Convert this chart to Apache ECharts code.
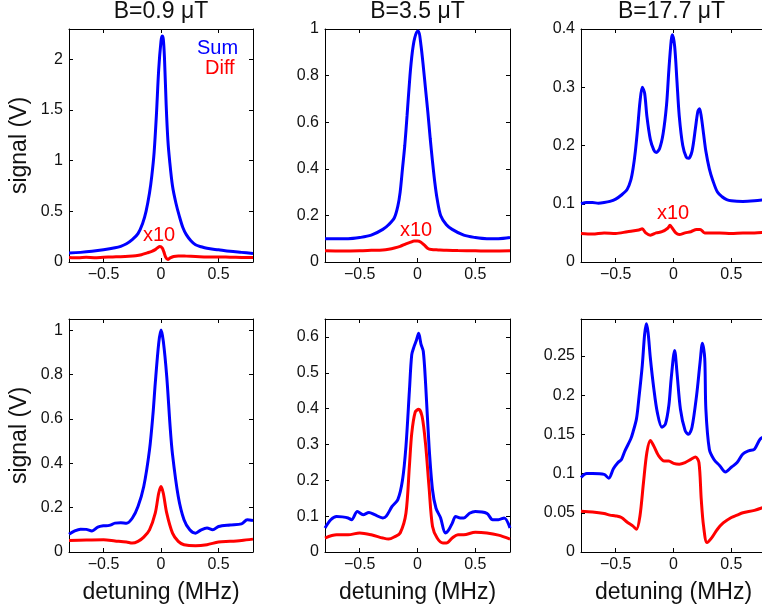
<!DOCTYPE html>
<html>
<head>
<meta charset="utf-8">
<script src="https://cdn.jsdelivr.net/npm/echarts@6/dist/echarts.min.js"></script>
<style>html,body{margin:0;padding:0;background:#fff}#c{width:762px;height:610px}</style>
</head>
<body>
<div id="c"></div>
<script>
// ---------- data ----------
const titles = ['B=0.9 μT', 'B=3.5 μT', 'B=17.7 μT'];
const xTicks = [-0.5, 0, 0.5];
const yTicks1 = [0, 0.5, 1, 1.5, 2];
const yTicks2 = [0, 0.2, 0.4, 0.6, 0.8, 1];
const yTicks3 = [0, 0.1, 0.2, 0.3, 0.4];
const yTicks4 = [0, 0.2, 0.4, 0.6, 0.8, 1];
const yTicks5 = [0, 0.1, 0.2, 0.3, 0.4, 0.5, 0.6];
const yTicks6 = [0, 0.05, 0.1, 0.15, 0.2, 0.25];
const yMax = [2.3, 1, 0.4, 1.05, 0.65, 0.297];

// Panel 1 (B=0.9 uT, top)
const sum1X = [-0.80,-0.70,-0.60,-0.50,-0.40,-0.35,-0.30,-0.25,-0.20,-0.16,-0.13,-0.10,-0.08,-0.06,-0.04,-0.02,0.00,0.01,0.02,0.03,0.045,0.06,0.075,0.10,0.13,0.16,0.19,0.22,0.26,0.30,0.35,0.40,0.50,0.60,0.70,0.80];
const sum1Y = [0.09,0.095,0.105,0.12,0.14,0.155,0.18,0.22,0.28,0.38,0.50,0.68,0.85,1.08,1.45,1.90,2.18,2.23,2.20,2.02,1.55,1.20,1.00,0.75,0.58,0.45,0.34,0.27,0.21,0.17,0.15,0.135,0.12,0.105,0.095,0.085];
const diff1X = [-0.80,-0.72,-0.65,-0.58,-0.50,-0.42,-0.35,-0.28,-0.22,-0.17,-0.12,-0.08,-0.05,-0.03,-0.01,0.01,0.025,0.04,0.06,0.08,0.11,0.15,0.22,0.30,0.40,0.50,0.60,0.70,0.80];
const diff1Y = [0.045,0.042,0.046,0.043,0.047,0.05,0.052,0.056,0.062,0.072,0.09,0.105,0.122,0.14,0.152,0.14,0.10,0.05,0.025,0.04,0.055,0.06,0.058,0.055,0.05,0.05,0.047,0.045,0.044];

// Panel 2 (B=3.5 uT, top)
const sum2X = [-0.80,-0.70,-0.60,-0.50,-0.40,-0.30,-0.25,-0.20,-0.17,-0.15,-0.13,-0.11,-0.09,-0.065,-0.045,-0.025,0.00,0.01,0.03,0.05,0.07,0.09,0.11,0.13,0.15,0.17,0.20,0.25,0.30,0.40,0.50,0.60,0.70,0.80];
const sum2Y = [0.10,0.10,0.10,0.105,0.115,0.14,0.16,0.19,0.24,0.30,0.40,0.50,0.63,0.80,0.90,0.96,0.99,0.99,0.93,0.84,0.74,0.64,0.53,0.43,0.34,0.27,0.20,0.16,0.14,0.115,0.105,0.10,0.10,0.105];
const diff2X = [-0.80,-0.65,-0.50,-0.40,-0.30,-0.25,-0.20,-0.15,-0.10,-0.06,-0.03,0.00,0.03,0.06,0.09,0.12,0.18,0.25,0.35,0.50,0.65,0.80];
const diff2Y = [0.048,0.047,0.048,0.05,0.052,0.055,0.06,0.067,0.078,0.085,0.09,0.09,0.085,0.072,0.058,0.054,0.052,0.05,0.049,0.048,0.047,0.048];

// Panel 3 (B=17.7 uT, top)
const sum3X = [-0.80,-0.75,-0.70,-0.65,-0.60,-0.55,-0.50,-0.45,-0.40,-0.37,-0.35,-0.33,-0.31,-0.29,-0.27,-0.25,-0.23,-0.20,-0.17,-0.15,-0.12,-0.09,-0.06,-0.04,-0.02,-0.01,0.01,0.03,0.05,0.08,0.11,0.13,0.16,0.19,0.21,0.225,0.24,0.26,0.28,0.31,0.34,0.38,0.42,0.46,0.50,0.60,0.70,0.80];
const sum3Y = [0.10,0.102,0.102,0.101,0.102,0.104,0.108,0.115,0.125,0.14,0.16,0.19,0.23,0.275,0.30,0.29,0.25,0.21,0.192,0.188,0.195,0.22,0.27,0.33,0.38,0.39,0.37,0.31,0.25,0.20,0.18,0.178,0.19,0.23,0.258,0.263,0.25,0.22,0.19,0.16,0.14,0.12,0.112,0.107,0.105,0.104,0.105,0.107];
const diff3X = [-0.80,-0.70,-0.60,-0.50,-0.40,-0.30,-0.27,-0.24,-0.20,-0.15,-0.10,-0.05,-0.03,-0.01,0.02,0.05,0.10,0.15,0.20,0.23,0.27,0.40,0.50,0.60,0.70,0.80];
const diff3Y = [0.049,0.048,0.05,0.049,0.052,0.055,0.057,0.05,0.046,0.05,0.052,0.058,0.063,0.058,0.05,0.047,0.05,0.052,0.056,0.056,0.05,0.05,0.049,0.05,0.05,0.051];

// Panel 4 (B=0.9 uT, bottom)
const sum4X = [-0.80,-0.75,-0.70,-0.65,-0.60,-0.55,-0.50,-0.45,-0.40,-0.35,-0.30,-0.25,-0.20,-0.15,-0.10,-0.07,-0.05,-0.02,0.00,0.02,0.05,0.08,0.10,0.15,0.20,0.25,0.30,0.35,0.40,0.45,0.50,0.60,0.70,0.75,0.80];
const sum4Y = [0.08,0.095,0.103,0.102,0.095,0.112,0.118,0.12,0.13,0.132,0.13,0.152,0.205,0.295,0.46,0.62,0.76,0.94,1.00,0.95,0.79,0.56,0.44,0.25,0.145,0.10,0.085,0.10,0.108,0.10,0.115,0.122,0.127,0.145,0.142];
const diff4X = [-0.80,-0.65,-0.50,-0.40,-0.30,-0.25,-0.20,-0.15,-0.10,-0.05,-0.02,0.00,0.02,0.05,0.10,0.15,0.20,0.30,0.40,0.50,0.60,0.70,0.80];
const diff4Y = [0.052,0.054,0.055,0.05,0.045,0.04,0.048,0.067,0.10,0.175,0.265,0.295,0.265,0.175,0.085,0.048,0.033,0.028,0.033,0.045,0.048,0.052,0.058];

// Panel 5 (B=3.5 uT, bottom)
const sum5X = [-0.80,-0.75,-0.70,-0.65,-0.60,-0.57,-0.52,-0.47,-0.42,-0.37,-0.30,-0.27,-0.22,-0.17,-0.13,-0.10,-0.07,-0.05,-0.03,-0.01,0.01,0.03,0.05,0.07,0.10,0.13,0.16,0.20,0.24,0.27,0.30,0.33,0.37,0.40,0.45,0.50,0.60,0.65,0.70,0.75,0.80];
const sum5Y = [0.067,0.09,0.099,0.098,0.095,0.09,0.113,0.104,0.11,0.104,0.095,0.10,0.127,0.146,0.20,0.294,0.45,0.55,0.573,0.59,0.61,0.58,0.56,0.47,0.294,0.173,0.122,0.095,0.053,0.062,0.08,0.099,0.095,0.095,0.108,0.113,0.108,0.09,0.09,0.095,0.067];
const diff5X = [-0.80,-0.70,-0.60,-0.50,-0.40,-0.30,-0.25,-0.20,-0.15,-0.10,-0.07,-0.05,-0.02,0.01,0.04,0.07,0.10,0.13,0.17,0.22,0.25,0.30,0.35,0.40,0.50,0.60,0.70,0.80];
const diff5Y = [0.039,0.048,0.048,0.053,0.048,0.039,0.036,0.042,0.053,0.108,0.24,0.33,0.39,0.398,0.378,0.30,0.18,0.071,0.039,0.025,0.025,0.039,0.048,0.048,0.055,0.053,0.047,0.036];

// Panel 6 (B=17.7 uT, bottom)
const sum6X = [-0.80,-0.75,-0.70,-0.60,-0.56,-0.52,-0.48,-0.45,-0.42,-0.37,-0.35,-0.32,-0.30,-0.27,-0.25,-0.235,-0.22,-0.20,-0.17,-0.14,-0.10,-0.07,-0.04,-0.02,0.01,0.03,0.06,0.10,0.13,0.16,0.20,0.23,0.25,0.27,0.28,0.31,0.35,0.40,0.45,0.50,0.55,0.60,0.65,0.70,0.75,0.80];
const sum6Y = [0.095,0.10,0.10,0.099,0.094,0.106,0.114,0.118,0.129,0.144,0.153,0.17,0.195,0.238,0.277,0.291,0.28,0.247,0.208,0.178,0.159,0.163,0.187,0.221,0.257,0.229,0.182,0.155,0.15,0.159,0.20,0.242,0.266,0.247,0.182,0.131,0.118,0.11,0.102,0.108,0.114,0.125,0.129,0.131,0.144,0.148];
const diff6X = [-0.80,-0.70,-0.60,-0.55,-0.50,-0.45,-0.40,-0.35,-0.32,-0.29,-0.26,-0.23,-0.20,-0.17,-0.13,-0.08,-0.04,0.00,0.05,0.10,0.15,0.19,0.22,0.24,0.26,0.29,0.33,0.38,0.43,0.50,0.55,0.60,0.70,0.80];
const diff6Y = [0.052,0.051,0.049,0.047,0.046,0.044,0.038,0.033,0.029,0.046,0.088,0.127,0.142,0.135,0.123,0.116,0.116,0.113,0.112,0.114,0.118,0.121,0.114,0.067,0.033,0.012,0.018,0.029,0.037,0.044,0.047,0.05,0.053,0.058];

// ---------- layout / style ----------
const FONT = '"Liberation Sans", Arial, Helvetica, sans-serif';
const colLeft = [69, 325, 581];
const colWidth = [184, 185, 185];
const rowTop = [29, 319];
const rowHeight = 233;
const yTickSets = [yTicks1, yTicks2, yTicks3, yTicks4, yTicks5, yTicks6];
const sums = [[sum1X,sum1Y],[sum2X,sum2Y],[sum3X,sum3Y],[sum4X,sum4Y],[sum5X,sum5Y],[sum6X,sum6Y]];
const diffs = [[diff1X,diff1Y],[diff2X,diff2Y],[diff3X,diff3Y],[diff4X,diff4Y],[diff5X,diff5Y],[diff6X,diff6Y]];

function zip(xs, ys) { return xs.map((x, i) => [x, ys[i]]); }
function fmt(v) { return String(v).replace('-', '\u2212'); }

const grid = [], xAxis = [], yAxis = [], series = [];
for (let i = 0; i < 6; i++) {
  const r = Math.floor(i / 3), c = i % 3;
  grid.push({ left: colLeft[c], top: rowTop[r], width: colWidth[c], height: rowHeight,
              containLabel: false, outerBoundsMode: 'none', show: false });
  const axLine = { show: true, onZero: false, lineStyle: { color: '#000', width: 1 } };
  const tickX = { show: true, inside: true, length: 4, customValues: xTicks, lineStyle: { color: '#000', width: 1 } };
  const tickY = { show: true, inside: true, length: 4, customValues: yTickSets[i], lineStyle: { color: '#000', width: 1 } };
  xAxis.push({
    type: 'value', gridIndex: i, min: -0.8, max: 0.8, position: 'bottom',
    axisLine: axLine, axisTick: tickX, splitLine: { show: false },
    axisLabel: { customValues: xTicks, formatter: fmt, fontSize: 16, color: '#111', margin: 5, fontFamily: FONT },
    name: r === 1 ? 'detuning (MHz)' : '', nameLocation: 'middle', nameGap: 29,
    nameTextStyle: { fontSize: 23, color: '#111', fontFamily: FONT }
  });
  xAxis.push({
    type: 'value', gridIndex: i, min: -0.8, max: 0.8, position: 'top',
    axisLine: axLine, axisTick: tickX, splitLine: { show: false }, axisLabel: { show: false }
  });
  yAxis.push({
    type: 'value', gridIndex: i, min: 0, max: yMax[i], position: 'left',
    axisLine: axLine, axisTick: tickY, splitLine: { show: false },
    axisLabel: { customValues: yTickSets[i], formatter: fmt, fontSize: 16, color: '#111', margin: 6, fontFamily: FONT },
    name: c === 0 ? 'signal (V)' : '', nameLocation: 'middle', nameGap: 38,
    nameTextStyle: { fontSize: 23, color: '#111', fontFamily: FONT }
  });
  yAxis.push({
    type: 'value', gridIndex: i, min: 0, max: yMax[i], position: 'right',
    axisLine: axLine, axisTick: tickY, splitLine: { show: false }, axisLabel: { show: false }
  });
  series.push({
    name: 'Sum', type: 'line', xAxisIndex: 2 * i, yAxisIndex: 2 * i,
    data: zip(sums[i][0], sums[i][1]), showSymbol: false, smooth: 0.3,
    lineStyle: { color: '#0000ff', width: 3 }, itemStyle: { color: '#0000ff' }, z: 3
  });
  series.push({
    name: 'Diff', type: 'line', xAxisIndex: 2 * i, yAxisIndex: 2 * i,
    data: zip(diffs[i][0], diffs[i][1]), showSymbol: false, smooth: 0.3,
    lineStyle: { color: '#ff0000', width: 3 }, itemStyle: { color: '#ff0000' }, z: 2
  });
}

const graphic = [];
for (let c = 0; c < 3; c++) {
  graphic.push({ type: 'text', x: colLeft[c] + colWidth[c] / 2 - (c === 2 ? 2 : 0), y: 0,
    style: { text: titles[c], fontSize: 23, fontFamily: FONT, fill: '#111',
             textAlign: 'center', align: 'center', textVerticalAlign: 'top', verticalAlign: 'top' } });
}
const x10pos = [[159, 235], [416, 230], [673, 213]];
x10pos.forEach(p => graphic.push({ type: 'text', x: p[0], y: p[1],
  style: { text: 'x10', fontSize: 20, fontFamily: FONT, fill: '#ff0000',
           textAlign: 'center', align: 'center', textVerticalAlign: 'middle', verticalAlign: 'middle' } }));

const option = {
  backgroundColor: '#fff',
  animation: false,
  grid, xAxis, yAxis, series, graphic,
  legend: [
    { data: ['Sum'], left: 192, top: 38, icon: 'none', itemWidth: 0, itemHeight: 0, padding: 0,
      selectedMode: false, textStyle: { color: '#0000ff', fontSize: 20, fontFamily: FONT } },
    { data: ['Diff'], left: 200, top: 58, icon: 'none', itemWidth: 0, itemHeight: 0, padding: 0,
      selectedMode: false, textStyle: { color: '#ff0000', fontSize: 20, fontFamily: FONT } }
  ]
};
const chart = echarts.init(document.getElementById('c'), null, { renderer: 'canvas' });
chart.setOption(option);
</script>
</body>
</html>
